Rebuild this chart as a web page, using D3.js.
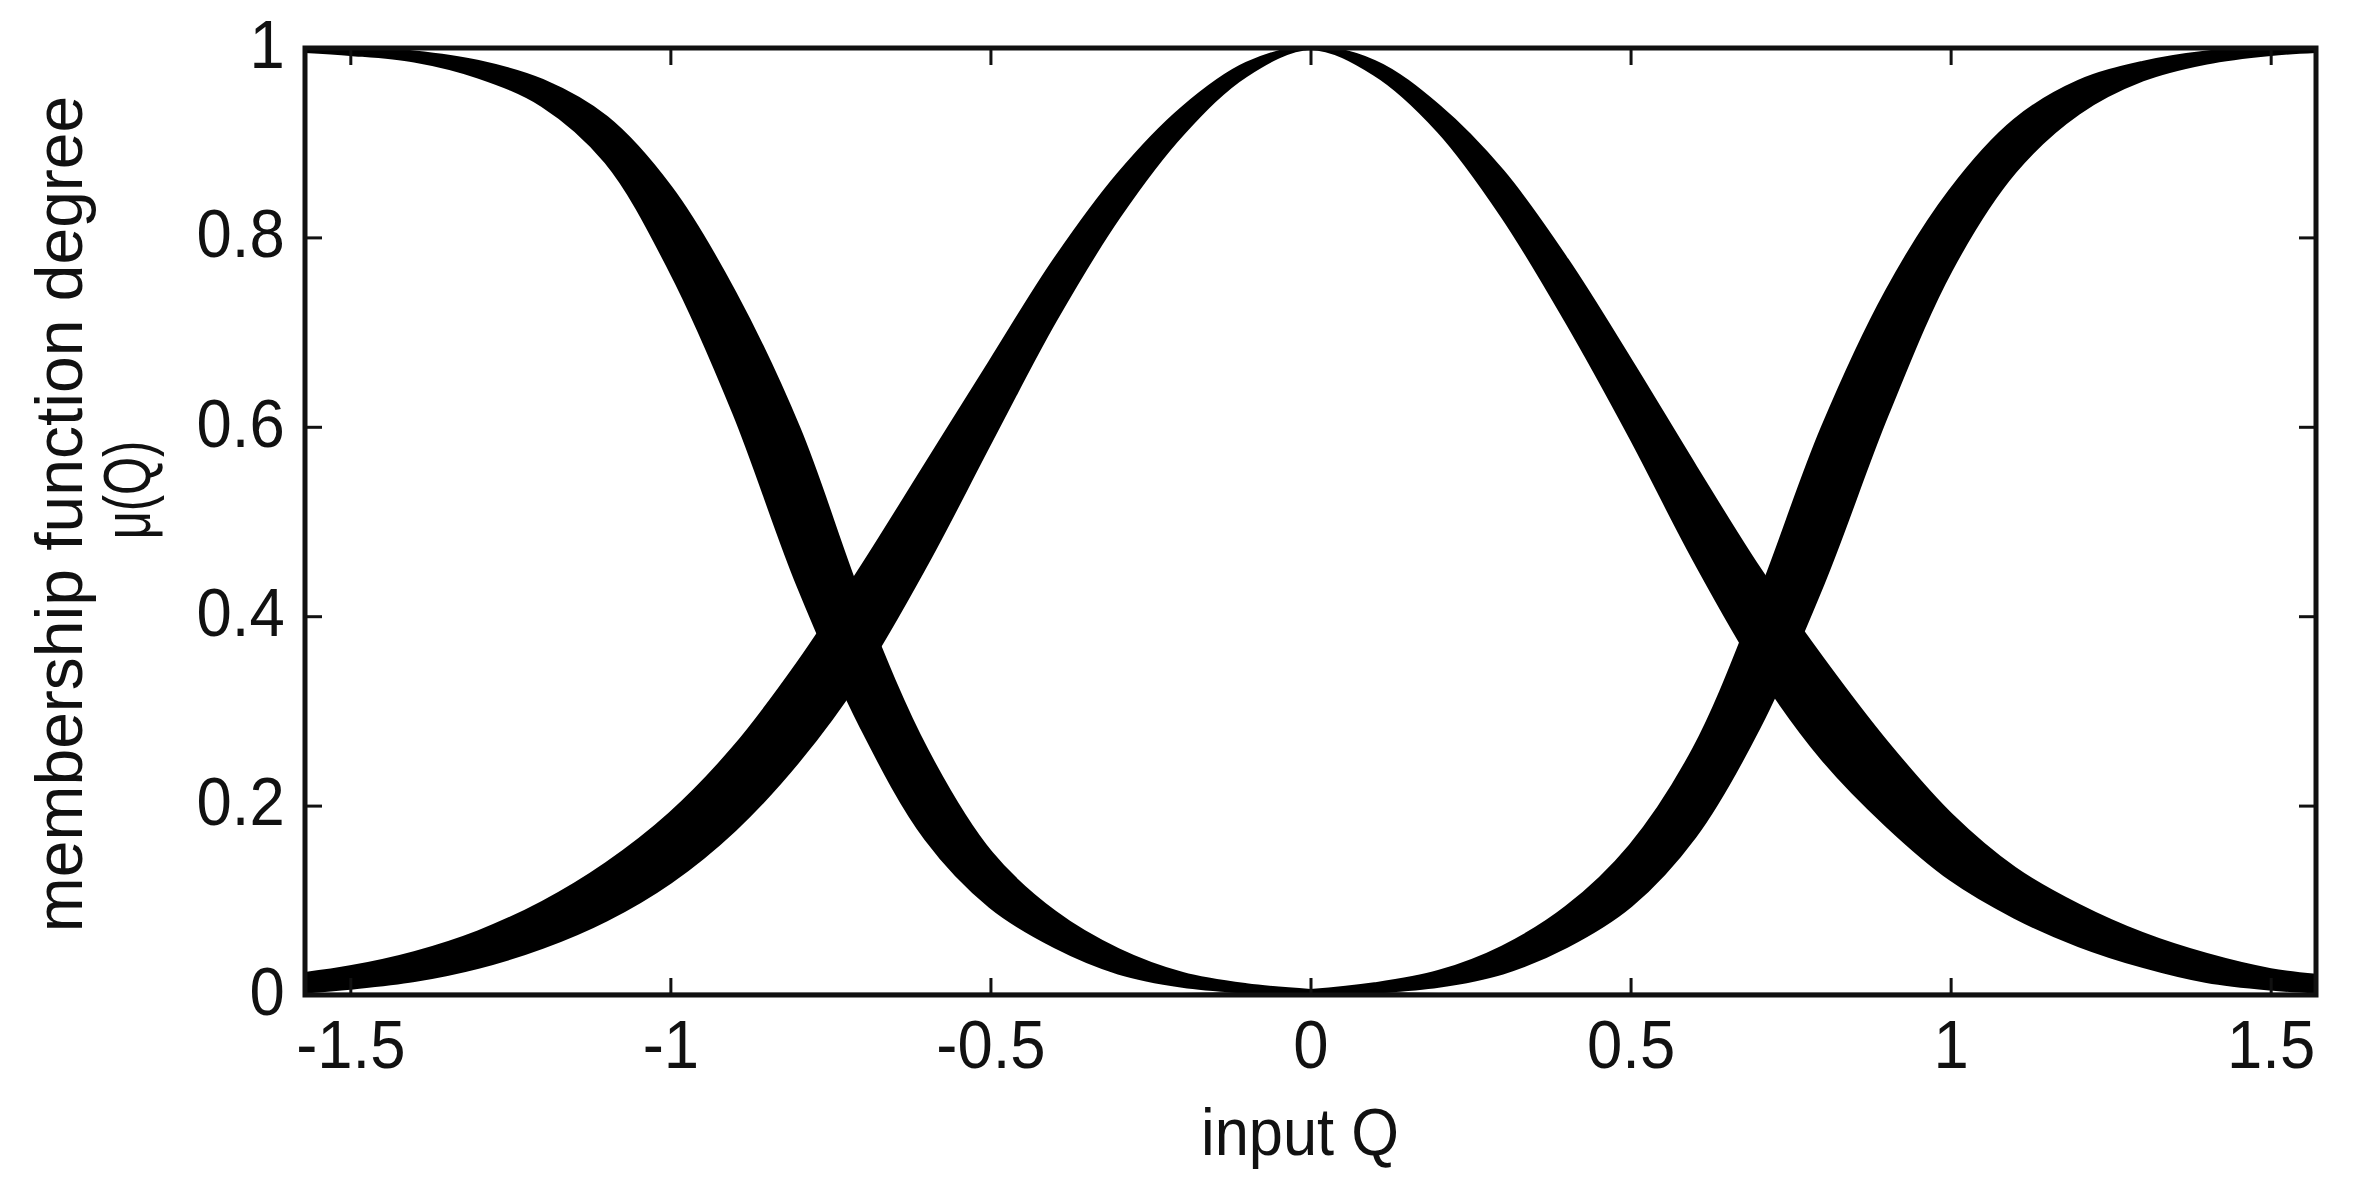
<!DOCTYPE html>
<html><head><meta charset="utf-8">
<script src="https://cdn.jsdelivr.net/npm/d3@7"></script>
<style>
html,body{margin:0;padding:0;background:#fff;}
svg{display:block;}
</style></head><body>
<svg id="chart" width="2353" height="1189"></svg>
<script>
// ---- data ----
const xDomain = [-1.5708, 1.5708];
const qValues = [-1.5708, -1.5, -1.4, -1.3, -1.2, -1.1, -1.0, -0.9, -0.8, -0.7, -0.6, -0.5, -0.4, -0.3, -0.2, -0.1, 0,
                 0.1, 0.2, 0.3, 0.4, 0.5, 0.6, 0.7, 0.8, 0.9, 1.0, 1.1, 1.2, 1.3, 1.4, 1.5, 1.5708];
// left (decreasing) band: upper and lower edge
const negUpper = [1.000, 0.999, 0.995, 0.985, 0.965, 0.926, 0.852, 0.741, 0.598, 0.412, 0.258, 0.150, 0.087, 0.047, 0.022, 0.010, 0.004,
                  0.001, 0, 0, 0, 0, 0, 0, 0, 0, 0, 0, 0, 0, 0, 0, 0];
const negLower = [0.997, 0.994, 0.987, 0.970, 0.940, 0.880, 0.766, 0.615, 0.433, 0.282, 0.165, 0.094, 0.052, 0.024, 0.010, 0.004, 0.001,
                  0, 0, 0, 0, 0, 0, 0, 0, 0, 0, 0, 0, 0, 0, 0, 0];
// centre (bell) band
const zeroUpper = [0.022, 0.029, 0.044, 0.066, 0.097, 0.138, 0.191, 0.261, 0.350, 0.452, 0.560, 0.668, 0.775, 0.866, 0.936, 0.983, 1.000,
                   0.985, 0.938, 0.869, 0.776, 0.669, 0.558, 0.450, 0.354, 0.266, 0.190, 0.133, 0.094, 0.064, 0.042, 0.026, 0.020];
const zeroLower = [0.004, 0.008, 0.016, 0.030, 0.051, 0.080, 0.120, 0.175, 0.248, 0.340, 0.456, 0.585, 0.712, 0.822, 0.910, 0.972, 1.000,
                   0.973, 0.913, 0.823, 0.712, 0.590, 0.460, 0.343, 0.250, 0.180, 0.123, 0.083, 0.053, 0.031, 0.015, 0.007, 0.004];
// right (increasing) band
const posUpper = [0, 0, 0, 0, 0, 0, 0, 0, 0, 0, 0, 0, 0, 0, 0, 0.001, 0.004,
                  0.011, 0.024, 0.050, 0.092, 0.157, 0.260, 0.418, 0.598, 0.742, 0.849, 0.923, 0.964, 0.984, 0.995, 0.999, 1.000];
const posLower = [0, 0, 0, 0, 0, 0, 0, 0, 0, 0, 0, 0, 0, 0, 0, 0, 0.001,
                  0.004, 0.010, 0.024, 0.052, 0.095, 0.168, 0.283, 0.435, 0.613, 0.766, 0.870, 0.932, 0.967, 0.985, 0.994, 0.997];

const xTicks = [-1.5, -1, -0.5, 0, 0.5, 1, 1.5];
const xTickLabels = ["-1.5", "-1", "-0.5", "0", "0.5", "1", "1.5"];
const yTicks = [0, 0.2, 0.4, 0.6, 0.8, 1];
const yTickLabels = ["0", "0.2", "0.4", "0.6", "0.8", "1"];
const xLabel = "input Q";
const yLabelLines = ["membership function degree", "μ(Q)"];

// ---- drawing ----
const FONT = '"Liberation Sans", Arial, Helvetica, sans-serif';
const L = 305, R = 2316, T = 48, B = 995;
const svg = d3.select('#chart');
svg.append('rect').attr('width', 2353).attr('height', 1189).attr('fill', '#fff');

const x = d3.scaleLinear().domain(xDomain).range([L, R]);
const y = d3.scaleLinear().domain([0, 1]).range([B, T]);

svg.append('defs').append('clipPath').attr('id', 'plotclip')
  .append('rect').attr('x', L).attr('y', T).attr('width', R - L).attr('height', B - T);

const bands = [
  {upper: negUpper, lower: negLower},
  {upper: zeroUpper, lower: zeroLower},
  {upper: posUpper, lower: posLower}
];
const area = d3.area()
  .x(d => x(d.q))
  .y0(d => y(d.lo))
  .y1(d => y(d.hi))
  .curve(d3.curveCatmullRom.alpha(0.5));

const plot = svg.append('g').attr('clip-path', 'url(#plotclip)');
bands.forEach(b => {
  const pts = qValues.map((q, i) => ({q: q, hi: b.upper[i], lo: b.lower[i]}));
  plot.append('path').datum(pts).attr('d', area)
    .attr('fill', '#000').attr('stroke', '#000').attr('stroke-width', 4.5)
    .attr('stroke-linejoin', 'round');
});

function styleAxis(g, showText) {
  g.select('.domain').remove();
  g.selectAll('.tick line').attr('stroke', '#111').attr('stroke-width', 3);
  if (!showText) g.selectAll('.tick text').remove();
  else g.selectAll('.tick text').attr('fill', '#111')
        .style('font-family', FONT).style('font-size', '69px');
}

const gB = svg.append('g').attr('transform', `translate(0,${B})`)
  .call(d3.axisBottom(x).tickValues(xTicks).tickFormat((d, i) => xTickLabels[i]).tickSize(-17).tickPadding(24));
styleAxis(gB, true);
gB.selectAll('.tick text').attr('transform', 'scale(0.92,1)');

const gT = svg.append('g').attr('transform', `translate(0,${T})`)
  .call(d3.axisTop(x).tickValues(xTicks).tickSize(-17));
styleAxis(gT, false);

const gL = svg.append('g').attr('transform', `translate(${L},0)`)
  .call(d3.axisLeft(y).tickValues(yTicks).tickFormat((d, i) => yTickLabels[i]).tickSize(-17).tickPadding(22));
styleAxis(gL, true);
gL.selectAll('.tick text').attr('transform', 'scale(0.92,1)').attr('dy', '0.28em');

const gR = svg.append('g').attr('transform', `translate(${R},0)`)
  .call(d3.axisRight(y).tickValues(yTicks).tickSize(-17));
styleAxis(gR, false);

svg.append('rect').attr('x', L).attr('y', T).attr('width', R - L).attr('height', B - T)
  .attr('fill', 'none').attr('stroke', '#111').attr('stroke-width', 5);

svg.append('text').attr('transform', 'translate(1300,1155) scale(0.93,1)')
  .attr('text-anchor', 'middle').style('font-family', FONT).style('font-size', '66px')
  .attr('fill', '#111').text(xLabel);

svg.append('text').attr('transform', 'translate(82,514) rotate(-90)')
  .attr('text-anchor', 'middle').style('font-family', FONT).style('font-size', '66px')
  .attr('fill', '#111').text(yLabelLines[0]);
svg.append('text').attr('transform', 'translate(150,490) rotate(-90) scale(0.74,1)')
  .attr('text-anchor', 'middle').style('font-family', FONT).style('font-size', '66px')
  .attr('fill', '#111').text(yLabelLines[1]);
</script>
</body></html>
